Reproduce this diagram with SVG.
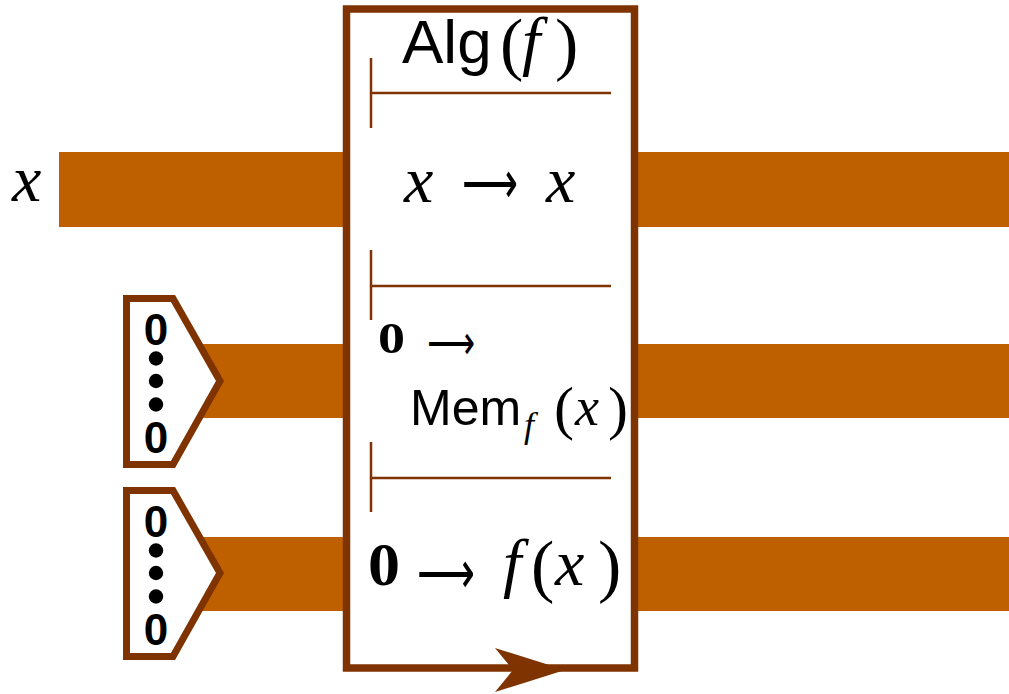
<svg xmlns="http://www.w3.org/2000/svg" width="1009" height="694" viewBox="0 0 1009 694">
<style>
.wire{fill:#BF6000;stroke:none}
.box{fill:none;stroke:#7F3300;stroke-width:7.5}
.pent{fill:#fff;stroke:#7F3300;stroke-width:7}
.thin{fill:none;stroke:#7F3300;stroke-width:2.5}
.dot{fill:#000}
.sans{font-family:"Liberation Sans",Arial,sans-serif;fill:#000}
.serif{font-family:"Liberation Serif","Times New Roman",serif;fill:#000}
.arr{font-family:"DejaVu Sans",sans-serif;fill:#000}
.it{font-style:italic}
.bd{font-weight:bold}
</style>
<rect width="1009" height="694" fill="#fff"/>
<g id="connectors">
  <rect class="wire" x="59" y="152" width="288" height="75"/>
  <rect class="wire" x="634" y="152" width="375" height="75"/>
  <rect class="wire" x="200" y="344" width="147" height="74"/>
  <rect class="wire" x="634" y="344" width="375" height="74"/>
  <rect class="wire" x="200" y="537" width="147" height="74"/>
  <rect class="wire" x="634" y="537" width="375" height="74"/>
</g>
<g id="label-x">
  <text class="serif it" x="12" y="201" font-size="66">x</text>
</g>
<g id="init1">
  <polygon class="pent" points="126.5,298.5 173,298.5 220,381 173,464.5 126.5,464.5"/>
  <text class="sans bd" x="156" y="345" font-size="44" text-anchor="middle">0</text>
  <circle class="dot" cx="156" cy="358.5" r="7.2"/>
  <circle class="dot" cx="156" cy="381" r="7.2"/>
  <circle class="dot" cx="156" cy="404.5" r="7.2"/>
  <text class="sans bd" x="156" y="453" font-size="44" text-anchor="middle">0</text>
</g>
<g id="init2">
  <polygon class="pent" points="126.5,490.5 173,490.5 220,573 173,656.5 126.5,656.5"/>
  <text class="sans bd" x="156" y="537" font-size="44" text-anchor="middle">0</text>
  <circle class="dot" cx="156" cy="550.5" r="7.2"/>
  <circle class="dot" cx="156" cy="573" r="7.2"/>
  <circle class="dot" cx="156" cy="596.5" r="7.2"/>
  <text class="sans bd" x="156" y="645" font-size="44" text-anchor="middle">0</text>
</g>
<g id="alg">
  <rect x="346.5" y="9" width="288" height="659" fill="#fff"/>
  <rect class="box" x="346.5" y="9" width="288" height="659"/>
  <polygon fill="#7F3300" points="495,648 565,670 495,692 513,670"/>
  <path class="thin" d="M371,58 V128 M371,93 H611 M371,250 V320 M371,286 H611 M371,442 V512 M371,478 H611"/>
  <text y="63" font-size="62"><tspan class="sans" x="402">Alg</tspan><tspan class="serif" x="500" y="67" font-size="70">(</tspan><tspan class="serif it" x="522" y="63" font-size="66">f</tspan><tspan class="serif" x="555" y="67" font-size="70">)</tspan></text>
  <text y="202" font-size="66"><tspan class="serif it" x="404">x</tspan><tspan class="serif it" x="546">x</tspan></text>
  <text class="arr" x="462" y="203" font-size="60" textLength="56" lengthAdjust="spacingAndGlyphs">⟶</text>
  <text y="353" font-size="44"><tspan class="serif bd" x="378" textLength="27" lengthAdjust="spacingAndGlyphs">0</tspan></text>
  <text class="arr" x="427" y="359" font-size="48" textLength="48" lengthAdjust="spacingAndGlyphs">⟶</text>
  <text y="425" font-size="50"><tspan class="sans" x="410">Mem</tspan><tspan class="serif it" x="524" y="437" font-size="36">f</tspan><tspan class="serif" x="554" y="428" font-size="60">(</tspan><tspan class="serif it" x="575" y="425" font-size="54">x</tspan><tspan class="serif" x="608" y="428" font-size="60">)</tspan></text>
  <text y="585" font-size="62"><tspan class="serif bd" x="368" textLength="32" lengthAdjust="spacingAndGlyphs">0</tspan><tspan class="serif it" x="503" font-size="66">f</tspan><tspan class="serif" x="531" y="589" font-size="70">(</tspan><tspan class="serif it" x="555" y="585" font-size="66">x</tspan><tspan class="serif" x="598" y="589" font-size="70">)</tspan></text>
  <text class="arr" x="417" y="593" font-size="60" textLength="58" lengthAdjust="spacingAndGlyphs">⟶</text>
</g>
</svg>
